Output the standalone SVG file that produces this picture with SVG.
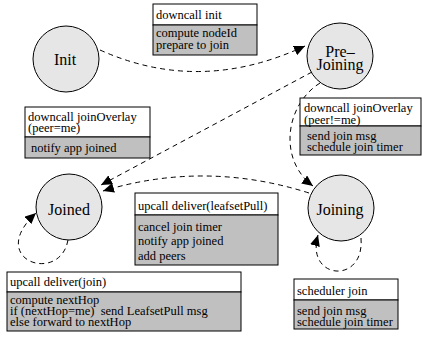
<svg xmlns="http://www.w3.org/2000/svg" width="422" height="349" viewBox="0 0 422 349">
<style>
.state{fill:#e6e6e6;stroke:#000;stroke-width:1}
.slabel{font-family:'Liberation Serif','Times New Roman',Times,'Nimbus Roman','DejaVu Serif',serif;font-size:16px;fill:#000;text-anchor:middle}
.hd{fill:#fff;stroke:#000;stroke-width:1}
.bd{fill:#c0c0c0;stroke:#000;stroke-width:1}
.t{font-family:'Liberation Serif','Times New Roman',Times,'Nimbus Roman','DejaVu Serif',serif;font-size:12.5px;fill:#000}
.edge{fill:none;stroke:#000;stroke-width:1;stroke-dasharray:5,4}
</style>
<defs>
<marker id="arr" markerUnits="userSpaceOnUse" markerWidth="12" markerHeight="10" refX="11" refY="5" orient="auto">
<path d="M0,0 L11,5 L0,10 Z" fill="#000"/>
</marker>
</defs>
<rect width="422" height="349" fill="#fff"/>

<g id="connectors">
<path class="edge" d="M100,50 Q200,95 305,46" marker-end="url(#arr)"/>
<path class="edge" d="M312,72 L101,185" marker-end="url(#arr)"/>
<path class="edge" d="M320,83 C285,105 278,160 313,186" marker-end="url(#arr)"/>
<path class="edge" d="M309,193 Q205,160 103,191" marker-end="url(#arr)"/>
<path class="edge" d="M68,240 C60,285 -15,260 36,213" marker-end="url(#arr)"/>
<path class="edge" d="M361,238 C365,285 305,280 318,235" marker-end="url(#arr)"/>
</g>

<g id="init">
<circle class="state" cx="66" cy="59" r="33"/>
<text class="slabel" x="65" y="65">Init</text>
</g>
<g id="prejoining">
<circle class="state" cx="340" cy="56" r="33"/>
<text class="slabel" x="340" y="57">Pre–</text>
<text class="slabel" x="340" y="70">Joining</text>
</g>
<g id="joined">
<circle class="state" cx="69" cy="207" r="33"/>
<text class="slabel" x="69" y="215">Joined</text>
</g>
<g id="joining">
<circle class="state" cx="341" cy="208" r="33"/>
<text class="slabel" x="340" y="215">Joining</text>
</g>

<g id="box-downcall-init">
<rect class="hd" x="153" y="4" width="104" height="21"/>
<rect class="bd" x="153" y="25" width="104" height="30"/>
<text class="t" x="156" y="19">downcall init</text>
<text class="t" x="156" y="37">compute nodeId</text>
<text class="t" x="156" y="49">prepare to join</text>
</g>
<g id="box-joinoverlay-me">
<rect class="hd" x="25" y="107" width="125" height="30"/>
<rect class="bd" x="25" y="137" width="125" height="21"/>
<text class="t" x="28" y="121">downcall joinOverlay</text>
<text class="t" x="28" y="132">(peer=me)</text>
<text class="t" x="31" y="152">notify app joined</text>
</g>
<g id="box-joinoverlay-notme">
<rect class="hd" x="300" y="98" width="121" height="28"/>
<rect class="bd" x="300" y="126" width="121" height="29"/>
<text class="t" x="304" y="112">downcall joinOverlay</text>
<text class="t" x="304" y="124">(peer!=me)</text>
<text class="t" x="307" y="140">send join msg</text>
<text class="t" x="307" y="151">schedule join timer</text>
</g>
<g id="box-leafsetpull">
<rect class="hd" x="135" y="193" width="143" height="22"/>
<rect class="bd" x="135" y="215" width="143" height="50"/>
<text class="t" x="138" y="210">upcall deliver(leafsetPull)</text>
<text class="t" x="138" y="231">cancel join timer</text>
<text class="t" x="138" y="245">notify app joined</text>
<text class="t" x="138" y="260">add peers</text>
</g>
<g id="box-deliver-join">
<rect class="hd" x="7" y="272" width="234" height="20"/>
<rect class="bd" x="7" y="292" width="234" height="39"/>
<text class="t" x="10" y="286">upcall deliver(join)</text>
<text class="t" x="10" y="304">compute nextHop</text>
<text class="t" x="10" y="315" xml:space="preserve">if (nextHop=me)  send LeafsetPull msg</text>
<text class="t" x="10" y="326">else forward to nextHop</text>
</g>
<g id="box-scheduler-join">
<rect class="hd" x="294" y="279" width="104" height="21"/>
<rect class="bd" x="294" y="300" width="104" height="29"/>
<text class="t" x="297" y="295">scheduler join</text>
<text class="t" x="297" y="315">send join msg</text>
<text class="t" x="297" y="326">schedule join timer</text>
</g>
</svg>
